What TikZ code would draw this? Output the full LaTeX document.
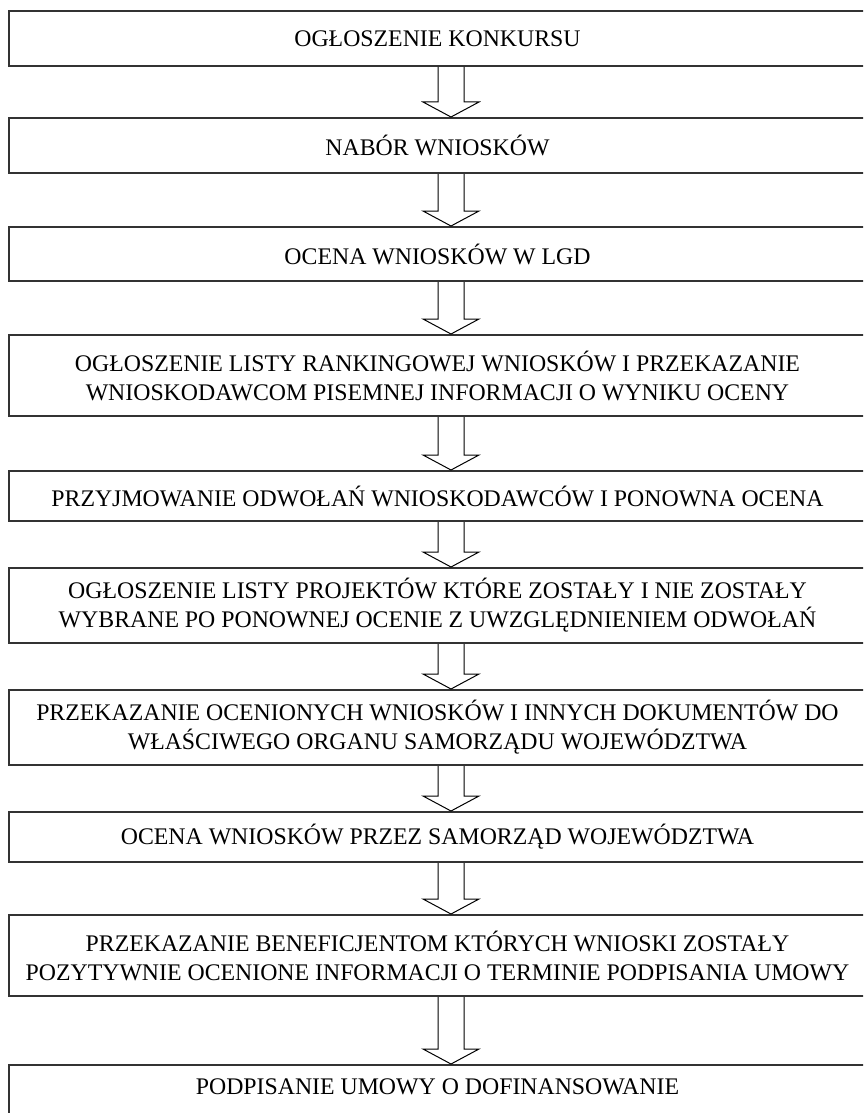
\documentclass[tikz,border=0pt]{standalone}
\usepackage{fontspec}
\setmainfont{Liberation Serif}
\usetikzlibrary{calc}
\newcommand{\FlowArrow}[2]{%
	\draw [arrowline] ($(#1.south -| axis) + (-13,0)$) -- ($(#2.north -| axis) + (-13,-15)$) -- ++(-15,0) -- (#2.north -| axis) -- ++(28,-15) -- ++(-15,0) -- ($(#1.south -| axis) + (13,0)$);%
}

\begin{document}
\begin{tikzpicture}[x=0.5pt, y=-0.5pt,
	stage/.style = {draw = black!80, line width = 1pt, minimum width = 428.5pt, align = center, inner sep = 0pt, font = \fontsize{11.9}{14.5}\selectfont},
	arrowline/.style = {draw = black, line width = 0.5pt}]
	\def\cx{437.5};
	
	\useasboundingbox (0,0) rectangle (863,1113);
	\clip (0,0) rectangle (863,1113);
	\fill [white] (0,0) rectangle (863,1113);
	
	\coordinate (axis) at (451,0);
	
	\node [stage, minimum height = 27.5pt] (s1) at (\cx,38.5) {OGŁOSZENIE KONKURSU};
	\node [stage, minimum height = 27.5pt] (s2) at (\cx,145.5) {NABÓR WNIOSKÓW};
	\node [stage, minimum height = 27pt] (s3) at (\cx,254) {OCENA WNIOSKÓW W LGD};
	\node [stage, minimum height = 40.5pt] (s4) at (\cx,375.5) {OGŁOSZENIE LISTY RANKINGOWEJ WNIOSKÓW I PRZEKAZANIE\\WNIOSKODAWCOM PISEMNEJ INFORMACJI O WYNIKU OCENY};
	\node [stage, minimum height = 25pt] (s5) at (\cx,496) {PRZYJMOWANIE ODWOŁAŃ WNIOSKODAWCÓW I PONOWNA OCENA};
	\node [stage, minimum height = 37.5pt] (s6) at (\cx,605.5) {OGŁOSZENIE LISTY PROJEKTÓW KTÓRE ZOSTAŁY I NIE ZOSTAŁY\\WYBRANE PO PONOWNEJ OCENIE Z UWZGLĘDNIENIEM ODWOŁAŃ};
	\node [stage, minimum height = 37.5pt] (s7) at (\cx,727.5) {PRZEKAZANIE OCENIONYCH WNIOSKÓW I INNYCH DOKUMENTÓW DO\\WŁAŚCIWEGO ORGANU SAMORZĄDU WOJEWÓDZTWA};
	\node [stage, minimum height = 25pt] (s8) at (\cx,837) {OCENA WNIOSKÓW PRZEZ SAMORZĄD WOJEWÓDZTWA};
	\node [stage, minimum height = 40.5pt] (s9) at (\cx,955.5) {PRZEKAZANIE BENEFICJENTOM KTÓRYCH WNIOSKI ZOSTAŁY\\POZYTYWNIE OCENIONE INFORMACJI O TERMINIE PODPISANIA UMOWY};
	\node [stage, anchor = north, inner ysep = 5.5pt, text height = 9pt, text depth = 40pt] (s10) at (\cx,1064) {PODPISANIE UMOWY O DOFINANSOWANIE};
	
	\foreach \a/\b in {s1/s2, s2/s3, s3/s4, s4/s5, s5/s6, s6/s7, s7/s8, s8/s9, s9/s10}
		\FlowArrow{\a}{\b};
\end{tikzpicture}
\end{document}
